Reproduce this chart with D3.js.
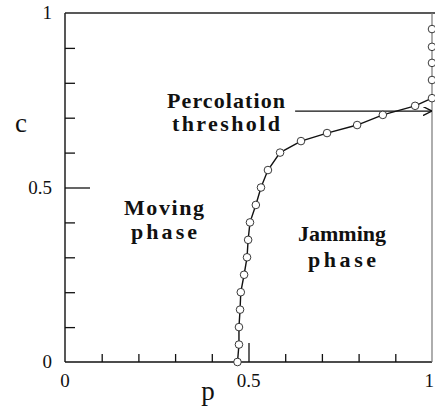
<!DOCTYPE html>
<html>
<head>
<meta charset="utf-8">
<script src="https://cdn.jsdelivr.net/npm/d3@7"></script>
<style>
  body { margin: 0; background: #fff; }
  text { font-family: "Liberation Serif", "DejaVu Serif", serif; fill: #111; }
  .note { font-weight: bold; font-size: 22px; }
  .tick-label { font-size: 19px; }
</style>
</head>
<body>
<div id="chart"></div>
<script>
// data
var curveP = [0.470, 0.474, 0.474, 0.477, 0.479, 0.488, 0.496, 0.499, 0.504, 0.520,
              0.534, 0.553, 0.586, 0.643, 0.714, 0.796, 0.866, 0.954, 1.0];
var curveC = [0.00, 0.05, 0.10, 0.15, 0.20, 0.25, 0.30, 0.35, 0.40, 0.45,
              0.50, 0.55, 0.60, 0.633, 0.656, 0.679, 0.708, 0.734, 0.756];
// points sitting on the p = 1 edge above the threshold
var edgeP = [1, 1, 1, 1];
var edgeC = [0.808, 0.857, 0.903, 0.954];

var minorTicks = [0.1, 0.2, 0.3, 0.4, 0.6, 0.7, 0.8, 0.9];
var majorTicks = [0.5];
var xTickLabels = [0, 0.5, 1];
var yTickLabels = [0, 0.5, 1];
var thresholdC = 0.719;
var arrowStartP = 0.627;

var svgWidth = 435;
var svgHeight = 412;
var margin = { top: 13, right: 3, bottom: 50, left: 65 };

var svg = d3.select("#chart")
  .append("svg")
  .attr("width", svgWidth)
  .attr("height", svgHeight);

var x = d3.scaleLinear().domain([0, 1]).range([margin.left, svgWidth - margin.right]);
var y = d3.scaleLinear().domain([0, 1]).range([svgHeight - margin.bottom, margin.top]);

// frame: left, bottom, top solid; right edge faint
svg.append("line")
  .attr("x1", x(0)).attr("x2", x(0)).attr("y1", y(0)).attr("y2", y(1))
  .attr("stroke", "#111").attr("stroke-width", 1.4);
svg.append("line")
  .attr("x1", x(0)).attr("x2", x(1)).attr("y1", y(0)).attr("y2", y(0))
  .attr("stroke", "#111").attr("stroke-width", 1.4);
svg.append("line")
  .attr("x1", x(0)).attr("x2", svgWidth).attr("y1", y(1)).attr("y2", y(1))
  .attr("stroke", "#222").attr("stroke-width", 1.4);
svg.append("line")
  .attr("x1", x(1)).attr("x2", x(1)).attr("y1", y(1)).attr("y2", y(0))
  .attr("stroke", "#777").attr("stroke-width", 1.2);

// ticks, drawn inward with d3 axes
function tickAxis(axis, values, size, transform) {
  var g = svg.append("g")
    .attr("transform", transform)
    .call(axis.tickValues(values).tickSize(size).tickFormat(""));
  g.select(".domain").remove();
  g.selectAll(".tick line").attr("stroke", "#111").attr("stroke-width", 1.3);
  return g;
}
tickAxis(d3.axisRight(y), minorTicks, 10, `translate(${x(0)},0)`);
tickAxis(d3.axisRight(y), majorTicks, 25, `translate(${x(0)},0)`);
tickAxis(d3.axisTop(x), minorTicks, 8, `translate(0,${y(0)})`);
tickAxis(d3.axisTop(x), majorTicks, 19, `translate(0,${y(0)})`);

// tick labels
svg.selectAll(".ylab")
  .data(yTickLabels)
  .enter()
  .append("text")
  .attr("class", "tick-label")
  .attr("text-anchor", "end")
  .attr("x", x(0) - 13)
  .attr("y", d => y(d) + 6)
  .text(d => d);

// last x label sits right at the page edge, so anchor it to the end
svg.selectAll(".xlab")
  .data(xTickLabels)
  .enter()
  .append("text")
  .attr("class", "tick-label")
  .attr("text-anchor", d => d === 1 ? "end" : "middle")
  .attr("x", d => d === 1 ? svgWidth - 1 : x(d))
  .attr("y", y(0) + 25)
  .text(d => d);

// axis titles
svg.append("text")
  .attr("x", 21).attr("y", 132)
  .attr("text-anchor", "middle")
  .style("font-size", "27px")
  .text("c");
svg.append("text")
  .attr("x", 208).attr("y", 400)
  .attr("text-anchor", "middle")
  .style("font-size", "27px")
  .text("p");

// threshold arrow
svg.append("defs").append("marker")
  .attr("id", "arrow")
  .attr("viewBox", "0 0 10 10")
  .attr("refX", 10).attr("refY", 5)
  .attr("markerWidth", 9).attr("markerHeight", 9)
  .attr("markerUnits", "userSpaceOnUse")
  .attr("orient", "auto")
  .append("path")
  .attr("d", "M0,0 L10,5 L0,10")
  .attr("fill", "none")
  .attr("stroke", "#111")
  .attr("stroke-width", 1.5);

svg.append("line")
  .attr("x1", x(arrowStartP)).attr("x2", x(1))
  .attr("y1", y(thresholdC)).attr("y2", y(thresholdC))
  .attr("stroke", "#111").attr("stroke-width", 1.3)
  .attr("marker-end", "url(#arrow)");

// transition curve
var curve = curveP.map((p, i) => ({ p: p, c: curveC[i] }));
var edge = edgeP.map((p, i) => ({ p: p, c: edgeC[i] }));

var line = d3.line()
  .x(d => x(d.p))
  .y(d => y(d.c));

svg.append("path")
  .datum(curve)
  .attr("d", line)
  .attr("fill", "none")
  .attr("stroke", "#111")
  .attr("stroke-width", 1.4);

svg.selectAll(".pt")
  .data(curve.concat(edge))
  .enter()
  .append("circle")
  .attr("cx", d => x(d.p))
  .attr("cy", d => y(d.c))
  .attr("r", 3.8)
  .attr("fill", "#fff")
  .attr("stroke", "#222")
  .attr("stroke-width", 0.9);

// annotations, widened a little to the widths seen in the scan
function note(lines, cx, baseY, gap) {
  lines.forEach(function(t, i) {
    svg.append("text")
      .attr("class", "note")
      .attr("text-anchor", "middle")
      .attr("x", cx)
      .attr("y", baseY + i * gap)
      .attr("textLength", t[1])
      .attr("lengthAdjust", "spacing")
      .text(t[0]);
  });
}
note([["Percolation", 118], ["threshold", 108]], 226, 108, 23);
note([["Moving", 80], ["phase", 66]], 164, 215, 24);
note([["Jamming", 88], ["phase", 68]], 342, 241, 26);
</script>
</body>
</html>
